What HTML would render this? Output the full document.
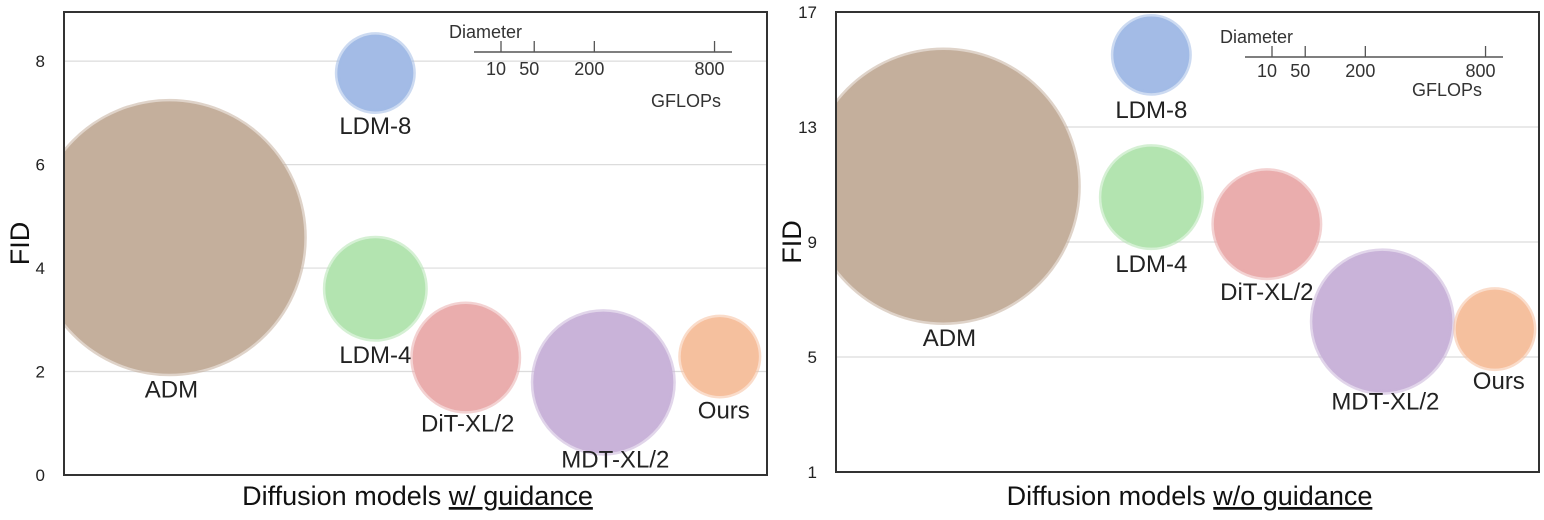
<!DOCTYPE html>
<html><head><meta charset="utf-8">
<style>
html,body{margin:0;padding:0;background:#fff;}
svg{display:block;font-family:"Liberation Sans",Arial,sans-serif;}
</style></head>
<body>
<svg id="chart" width="1544" height="520" viewBox="0 0 1544 520" xmlns="http://www.w3.org/2000/svg"></svg>
<script>
// ----- data -----
const models = ["ADM","LDM-8","LDM-4","DiT-XL/2","MDT-XL/2","Ours"];
const colors = ["#c4af9c","#a3bbe6","#b3e4b0","#eaadad","#c9b3d9","#f5c09e"];
const gflops = [1120, 89, 154, 173, 302, 94];
// left panel (w/ guidance)
const xPosLeft = [10.5, 31, 31, 40, 53.7, 65.3];
const fidLeft = [4.59, 7.77, 3.60, 2.27, 1.79, 2.29];
const yTicksLeft = [0, 2, 4, 6, 8];
// right panel (w/o guidance)
const xPosRight = [10.7, 31.4, 31.4, 42.9, 54.4, 65.6];
const fidRight = [10.94, 15.51, 10.56, 9.62, 6.23, 5.97];
const yTicksRight = [1, 5, 9, 13, 17];
const legendTicks = [10, 50, 200, 800];

const NS = "http://www.w3.org/2000/svg";
const svg = document.getElementById("chart");
function mk(tag, attrs, parent){
  const e = document.createElementNS(NS, tag);
  for (const k in attrs) e.setAttribute(k, attrs[k]);
  (parent||svg).appendChild(e);
  return e;
}
const defs = mk("defs", {});

function panel(p){
  const g = mk("g", {});
  
  
  const yS = v => p.y0 + (v - p.ymin) / (p.ymax - p.ymin) * (p.y1 - p.y0);
  const xS = v => p.x0 + v / 70 * (p.x1 - p.x0);
  const rS = v => 4.03 * Math.sqrt(v);
  const clip = mk("clipPath", {id: p.id + "-clip"}, defs);
  mk("rect", {x:p.x0, y:p.y1, width:p.x1-p.x0, height:p.y0-p.y1}, clip);
  p.ticks.forEach(t => {
    const y = yS(t);
    const gl = mk("line", {x1:p.x0, x2:p.x1, y1:y, y2:y, stroke:"#dcdcdc", "stroke-width":1.2}, g);
    
    
    const tl = mk("text", {x:p.x0-19, y:y+6, "text-anchor":"end", "font-size":17, fill:"#222"}, g);
    tl.textContent = t;
    
    
  });
  const bg = mk("g", {"clip-path":"url(#" + p.id + "-clip)"}, g);
  models.forEach((m, i) => {
    const cx = xS(p.xs[i]), cy = yS(p.fid[i]), r = rS(gflops[i]);
    const c = mk("ellipse", {cx:cx, cy:cy, rx:r, ry:r*1.01, fill:colors[i], stroke:colors[i], "stroke-opacity":0.55, "stroke-width":5}, bg);
    
    
    const off = p.labOff[i];
    const t = mk("text", {x:cx + off[0], y:cy + r + off[1], "text-anchor":"middle", "font-size":24, fill:"#222"}, g);
    t.textContent = m;
    
    
  });
  const fr = mk("rect", {x:p.x0, y:p.y1, width:p.x1-p.x0, height:p.y0-p.y1, fill:"none", stroke:"#333", "stroke-width":2}, g);
  
  
  const yt = mk("text", {x:0, y:0, transform:"translate(" + (p.x0-35) + "," + ((p.y0+p.y1)/2) + ") rotate(-90)", "text-anchor":"middle", "font-size":27, fill:"#111"}, g);
  yt.textContent = "FID";
  
  
  const xt = mk("text", {x:(p.x0+p.x1)/2 + 2, y:505, "text-anchor":"middle", "font-size":27, fill:"#111"}, g);
  
  
  xt.appendChild(document.createTextNode("Diffusion models "));
  const ts = mk("tspan", {"text-decoration":"underline"}, xt);
  ts.textContent = p.under;
  const lg = mk("g", {}, g);
  
  
  const L = p.leg;
  const lx = v => L.x + 27 + 8.5 * (Math.sqrt(v) - Math.sqrt(10));
  mk("line", {x1:L.x, x2:L.x+258, y1:L.y, y2:L.y, stroke:"#555", "stroke-width":1.5}, lg);
  const dt = mk("text", {x:L.x-25, y:L.y-14, "font-size":18, fill:"#333"}, lg);
  dt.textContent = "Diameter";
  legendTicks.forEach(v => {
    const x = lx(v);
    mk("line", {x1:x, x2:x, y1:L.y-11, y2:L.y, stroke:"#555", "stroke-width":1.3}, lg);
    const tt = mk("text", {x:x-5, y:L.y+p.numy, "text-anchor":"middle", "font-size":18, fill:"#333"}, lg);
    tt.textContent = v;
  });
  const gt = mk("text", {x:L.x+p.gfx, y:L.y+p.gfy, "text-anchor":"middle", "font-size":18, fill:"#333"}, lg);
  gt.textContent = "GFLOPs";
}

panel({id:"left", name:"panel-with-guidance", x0:64, x1:767, y0:475, y1:12, ymin:0, ymax:8.95,
  xs:xPosLeft, fid:fidLeft, ticks:yTicksLeft, under:"w/ guidance",
  labOff:[[2,25],[0,23],[0,24],[2,21],[12,15],[4,23]], leg:{x:474,y:52}, gfx:212, gfy:55, numy:23});
panel({id:"right", name:"panel-without-guidance", x0:836, x1:1539, y0:472, y1:12, ymin:1, ymax:17,
  xs:xPosRight, fid:fidRight, ticks:yTicksRight, under:"w/o guidance",
  labOff:[[6,25],[0,25],[0,25],[0,23],[3,18],[4,21]], leg:{x:1245,y:57}, gfx:202, gfy:39, numy:20});
</script>
</body></html>
